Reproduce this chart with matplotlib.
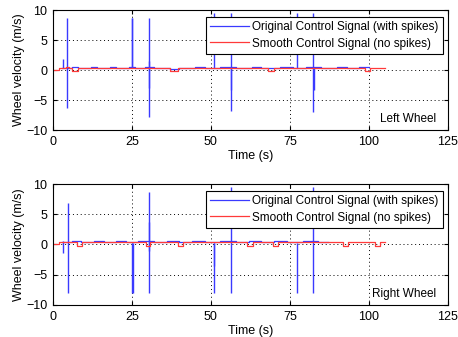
import matplotlib
matplotlib.use("Agg")
import matplotlib.pyplot as plt

plt.rcParams['font.family'] = ['Liberation Sans', 'DejaVu Sans']
plt.rcParams['font.size'] = 9

# ---------------- data ----------------
x_ticks = [0, 25, 50, 75, 100, 125]
y_ticks = [-10, -5, 0, 5, 10]
legend_labels = ["Original Control Signal (with spikes)", "Smooth Control Signal (no spikes)"]
panel_names = ["Left Wheel", "Right Wheel"]

# Left wheel: blue baseline (step) + spikes
blueL_base_t = [3.0, 6.0, 8.0, 12.0, 14.0, 18.0, 20.0, 24.0, 26.0, 29.0, 32.0, 37.0, 40.0, 45.0, 48.0, 53.0, 58.0, 63.0, 66.0, 72.0, 76.0, 80.0, 85.0, 90.0, 93.0, 97.0, 100.0]
blueL_base_v = [0.35, 0.5, 0.35, 0.5, 0.35, 0.5, 0.35, 0.5, 0.35, 0.5, 0.35, 0.1, 0.35, 0.5, 0.35, 0.5, 0.35, 0.5, 0.35, 0.5, 0.35, 0.5, 0.35, 0.5, 0.35, 0.5, 0.5]
spikeL_t  = [3.3, 4.3, 24.9, 25.0, 30.3, 30.45, 51.0, 56.3, 56.4, 77.3, 82.4, 82.5]
spikeL_hi = [1.9, 8.7, 8.7, 8.7, 8.7, 1.5, 9.5, 9.5, 0.3, 9.5, 9.5, 0.3]
spikeL_lo = [0.3, -6.4, 0.3, 0.3, -7.8, -3.0, 0.3, -6.8, -3.3, 0.3, -7.0, -3.3]

# Left wheel: smooth (red) step signal
redL_t = [0.0, 1.8, 4.0, 5.0, 5.9, 7.9, 37.0, 39.6, 68.0, 70.0, 98.8, 100.5, 105.0]
redL_v = [0.0, 0.3, 0.5, 0.3, -0.2, 0.3, -0.2, 0.3, -0.2, 0.3, -0.1, 0.3, 0.3]

# Right wheel: blue baseline (step) + spikes
blueR_base_t = [3.0, 6.0, 9.0, 13.0, 16.0, 20.0, 23.0, 27.0, 32.0, 36.0, 40.0, 44.0, 48.0, 53.0, 58.0, 62.0, 66.0, 70.0, 74.0, 79.0, 84.0, 87.0]
blueR_base_v = [0.4, 0.55, 0.4, 0.55, 0.4, 0.55, 0.4, 0.55, 0.4, 0.55, 0.4, 0.55, 0.4, 0.55, 0.4, 0.55, 0.4, 0.55, 0.4, 0.55, 0.4, 0.4]
spikeR_t  = [3.1, 4.6, 25.1, 25.2, 30.3, 30.4, 51.0, 51.1, 56.3, 77.1, 82.4]
spikeR_hi = [0.6, 6.8, 0.3, 0.3, 8.7, 3.8, 0.3, 0.3, 9.5, 0.3, 9.5]
spikeR_lo = [-1.4, -8.0, -8.0, -8.0, -8.0, -1.0, -8.0, -3.5, -8.0, -8.0, -8.0]

redR_t = [0.0, 2.0, 7.5, 9.1, 29.4, 30.7, 39.7, 41.2, 61.3, 63.4, 69.7, 71.3, 91.9, 93.5, 101.9, 103.5, 105.0]
redR_v = [0.0, 0.35, -0.2, 0.35, -0.2, 0.35, -0.2, 0.35, -0.2, 0.35, -0.2, 0.35, -0.2, 0.35, -0.2, 0.35, 0.35]

panels = [
    (blueL_base_t, blueL_base_v, spikeL_t, spikeL_hi, spikeL_lo, redL_t, redL_v, panel_names[0]),
    (blueR_base_t, blueR_base_v, spikeR_t, spikeR_hi, spikeR_lo, redR_t, redR_v, panel_names[1]),
]

BLUE = '#3a3aff'
RED = '#ff3a3a'

fig = plt.figure(figsize=(4.58, 3.37), dpi=100)
rects = [[0.1157, 0.614, 0.862, 0.356], [0.1157, 0.095, 0.862, 0.359]]

for rect, (bt, bv, st, shi, slo, rt, rv, name) in zip(rects, panels):
    ax = fig.add_axes(rect)
    hb, = ax.step(bt, bv, where='post', color=BLUE, lw=0.9)
    ax.vlines(st, slo, shi, color=BLUE, lw=1.0)
    hr, = ax.step(rt, rv, where='post', color=RED, lw=0.9)
    ax.set_xlim(0, 125)
    ax.set_ylim(-10, 10)
    ax.set_xticks(x_ticks)
    ax.set_yticks(y_ticks)
    ax.grid(True, linestyle=(0, (1, 3)), color='black', lw=0.7)
    ax.tick_params(direction='in', length=3, top=True, right=True, labelsize=9, pad=4)
    for s in ax.spines.values():
        s.set_linewidth(0.8)
    ax.set_xlabel("Time (s)", fontsize=9, labelpad=2)
    ax.set_ylabel("Wheel velocity (m/s)", fontsize=9, labelpad=1)
    leg = ax.legend([hb, hr], legend_labels, loc='upper right',
                    bbox_to_anchor=(0.987, 0.945), fontsize=8.5,
                    fancybox=False, framealpha=1, edgecolor='black',
                    handlelength=3.3, handletextpad=0.2, borderpad=0.4,
                    labelspacing=0.35, borderaxespad=0)
    leg.get_frame().set_linewidth(0.8)
    ax.text(0.97, 0.09, name, transform=ax.transAxes, ha='right', va='center', fontsize=8.5)

fig.savefig("out.png", dpi=100)
